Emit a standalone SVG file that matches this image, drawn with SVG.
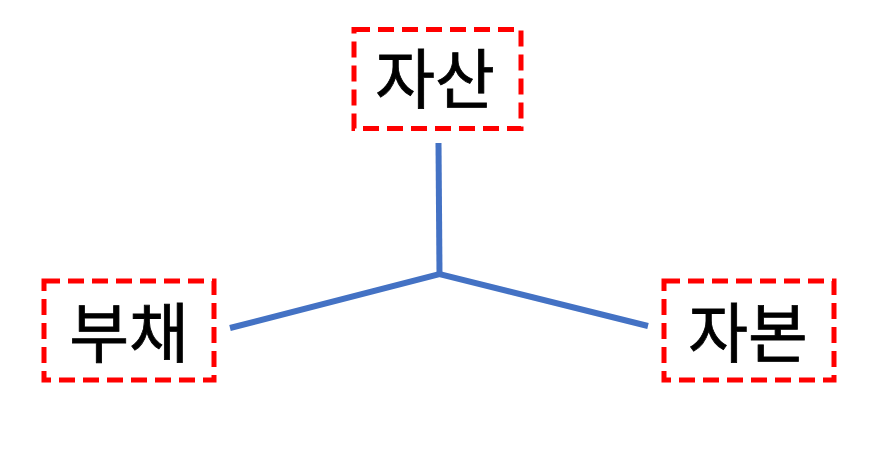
<svg xmlns="http://www.w3.org/2000/svg" width="870" height="451" viewBox="0 0 870 451">
<style>
.box{fill:none;stroke:#FF0000;stroke-width:5;stroke-dasharray:16 8}
.lbl{font-family:"Noto Sans CJK KR","Noto Sans",sans-serif;font-size:65px;font-weight:400;fill:#000;text-anchor:middle;stroke:#000;stroke-width:0.8}
.con{fill:none;stroke:#4472C4;stroke-width:6;stroke-linejoin:miter}
</style>
<rect width="870" height="451" fill="#fff"/>
<g id="connectors">
<polyline class="con" points="438.5,143 439.5,274"/>
<polyline class="con" points="230,328 439.5,274 648,326"/>
</g>
<g id="asset">
<rect class="box" x="354" y="29.5" width="167" height="99"/>
<text class="lbl" x="435" y="103">자산</text>
</g>
<g id="liability">
<rect class="box" x="44" y="281" width="170" height="99"/>
<text class="lbl" x="129" y="357">부채</text>
</g>
<g id="equity">
<rect class="box" x="664" y="281" width="170" height="99"/>
<text class="lbl" x="748" y="357">자본</text>
</g>
</svg>
